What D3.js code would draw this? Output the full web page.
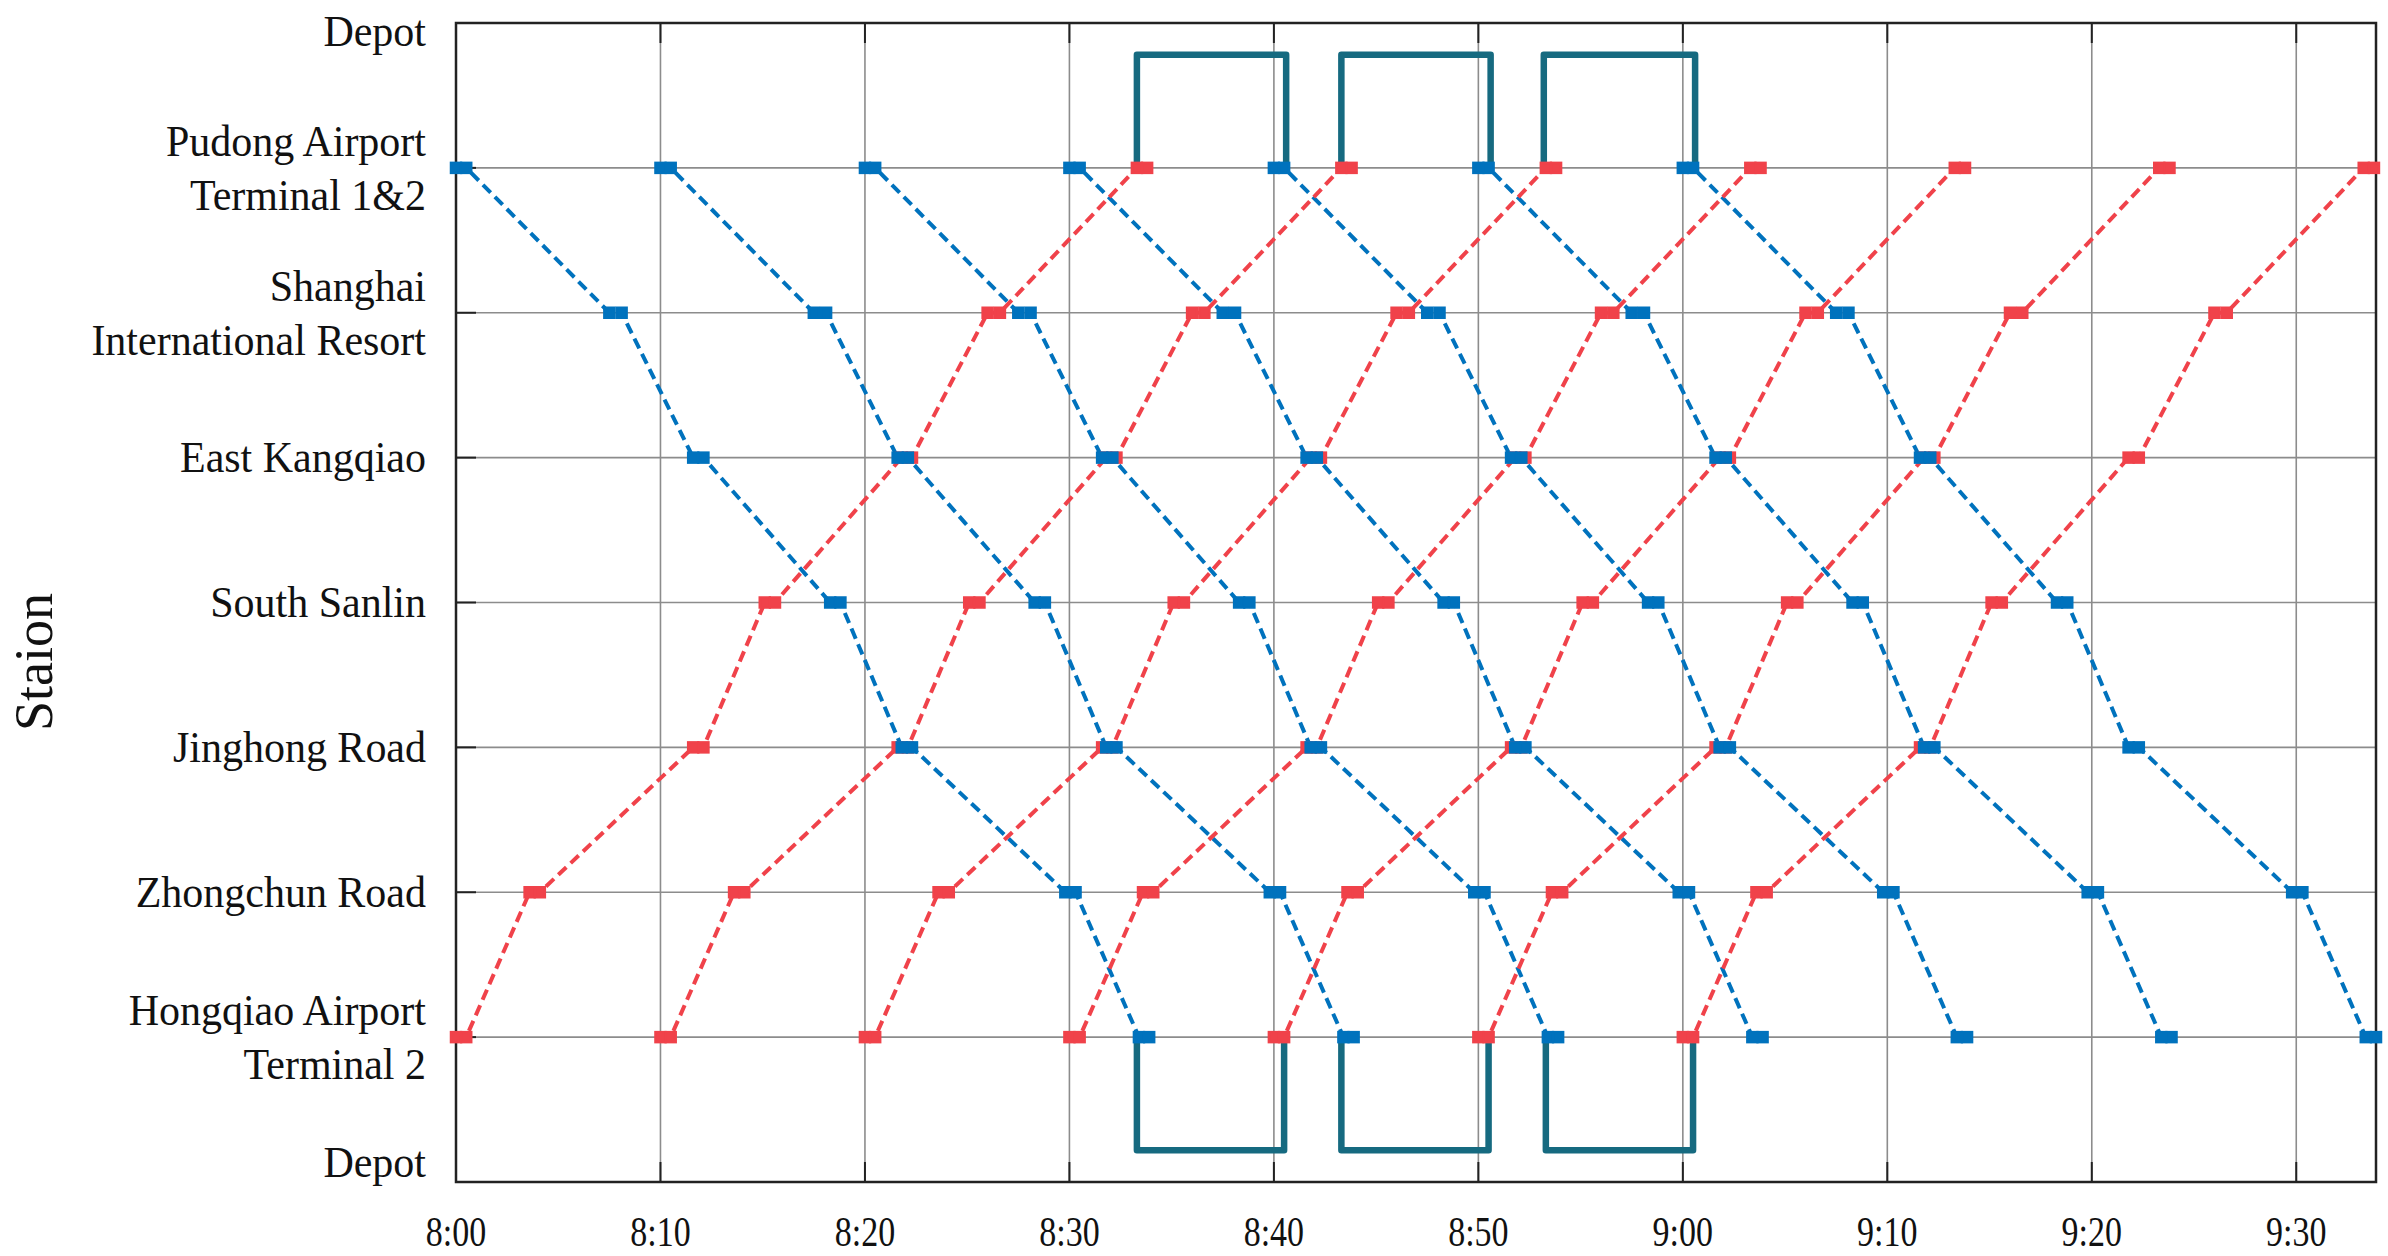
<!DOCTYPE html>
<html><head><meta charset="utf-8">
<script src="https://cdn.jsdelivr.net/npm/d3@7"></script>
<style>body{margin:0;background:#fff}</style></head>
<body><svg id="c" width="2388" height="1256"></svg>
<script>
// station levels: 0 Depot (bottom), 1 Hongqiao ... 7 Pudong, 8 Depot (top)
const stationLabels = [["Depot"],["Hongqiao Airport","Terminal 2"],["Zhongchun Road"],["Jinghong Road"],["South Sanlin"],["East Kangqiao"],["Shanghai","International Resort"],["Pudong Airport","Terminal 1&2"],["Depot"]];
const timeTicks = [0,10,20,30,40,50,60,70,80,90];
const timeTickLabels = ["8:00","8:10","8:20","8:30","8:40","8:50","9:00","9:10","9:20","9:30"];
// Blue trains (Pudong -> Hongqiao), stop levels and arr/dep minutes after 8:00
const blueLevels = [7,6,5,4,3,2,1];
const blueTrains = [
 [0,0.5, 7.5,8.1, 11.6,12.1, 18.3,18.8, 21.8,22.3, 29.8,30.3, 33.4,33.9],
 [10,10.5,17.5,18.1,21.6,22.1,28.3,28.8,31.8,32.3,39.8,40.3,43.4,43.9],
 [20,20.5,27.5,28.1,31.6,32.1,38.3,38.8,41.8,42.3,49.8,50.3,53.4,53.9],
 [30,30.5,37.5,38.1,41.6,42.1,48.3,48.8,51.8,52.3,59.8,60.3,63.4,63.9],
 [40,40.5,47.5,48.1,51.6,52.1,58.3,58.8,61.8,62.3,69.8,70.3,73.4,73.9],
 [50,50.5,57.5,58.1,61.6,62.1,68.3,68.8,71.8,72.3,79.8,80.3,83.4,83.9],
 [60,60.5,67.5,68.1,71.6,72.1,78.3,78.8,81.8,82.3,89.8,90.3,93.4,93.9]
];
// Red trains (Hongqiao -> Pudong)
const redLevels = [1,2,3,4,5,6,7];
const redTrains = [
 [0,0.5, 3.6,4.1, 11.6,12.1, 15.1,15.6, 21.8,22.3, 26.0,26.6, 33.3,33.8],
 [10,10.5,13.6,14.1,21.6,22.1,25.1,25.6,31.8,32.3,36.0,36.6,43.3,43.8],
 [20,20.5,23.6,24.1,31.6,32.1,35.1,35.6,41.8,42.3,46.0,46.6,53.3,53.8],
 [30,30.5,33.6,34.1,41.6,42.1,45.1,45.6,51.8,52.3,56.0,56.6,63.3,63.8],
 [40,40.5,43.6,44.1,51.6,52.1,55.1,55.6,61.8,62.3,66.0,66.6,73.3,73.8],
 [50,50.5,53.6,54.1,61.6,62.1,65.1,65.6,71.8,72.3,76.0,76.6,83.3,83.8],
 [60,60.5,63.6,64.1,71.6,72.1,75.1,75.6,81.8,82.3,86.0,86.6,93.3,93.8]
];
const depotTop = [[33.3,40.6],[43.3,50.6],[53.2,60.6]];
const depotBottom = [[33.3,40.5],[43.3,50.5],[53.3,60.5]];

const svg = d3.select("#c");
const L=456,R=2376,T=23,B=1182;
const x = d3.scaleLinear().domain([0,93.9]).range([L,R]);
const y = d3.scaleLinear().domain([0,8]).range([B,T]);
const g = svg.append("g");
g.selectAll(".vg").data(timeTicks).join("line").attr("x1",d=>x(d)).attr("x2",d=>x(d)).attr("y1",T).attr("y2",B).attr("stroke","#8c8c8c").attr("stroke-width",1.6);
g.selectAll(".hg").data(d3.range(1,8)).join("line").attr("x1",L).attr("x2",R).attr("y1",d=>y(d)).attr("y2",d=>y(d)).attr("stroke","#8c8c8c").attr("stroke-width",1.6);
g.selectAll(".bt").data(timeTicks).join("line").attr("x1",d=>x(d)).attr("x2",d=>x(d)).attr("y1",B).attr("y2",B-20).attr("stroke","#222").attr("stroke-width",2);
g.selectAll(".tt").data(timeTicks).join("line").attr("x1",d=>x(d)).attr("x2",d=>x(d)).attr("y1",T).attr("y2",T+20).attr("stroke","#222").attr("stroke-width",2);
g.selectAll(".lt").data(d3.range(0,9)).join("line").attr("x1",L).attr("x2",L+20).attr("y1",d=>y(d)).attr("y2",d=>y(d)).attr("stroke","#222").attr("stroke-width",2);
g.append("rect").attr("x",L).attr("y",T).attr("width",R-L).attr("height",B-T).attr("fill","none").attr("stroke","#222").attr("stroke-width",2.5);

const line = d3.line().x(d=>x(d[0])).y(d=>y(d[1]));
function pts(tr,lv){const p=[];lv.forEach((l,i)=>{p.push([tr[2*i],l]);p.push([tr[2*i+1],l]);});return p;}
function drawTrains(trains,lv,col){
  trains.forEach(tr=>{
    g.append("path").attr("d",line(pts(tr,lv))).attr("fill","none").attr("stroke",col).attr("stroke-width",4).attr("stroke-dasharray","11,6");
  });
}
function drawMarkers(trains,lv,col){
  trains.forEach(tr=>{
    pts(tr,lv).forEach(d=>{
      g.append("rect").attr("x",x(d[0])-5).attr("y",y(d[1])-5).attr("width",10).attr("height",10).attr("fill",col).attr("stroke",col).attr("stroke-width",2.5);
    });
  });
}
const blue="#0072BD", red="#F0424A", teal="#166A80";
const depotLine=d3.line().x(d=>x(d[0])).y(d=>y(d[1]));
depotTop.forEach(([a,b])=>g.append("path").attr("d",depotLine([[a,7],[a,7.78],[b,7.78],[b,7]])).attr("fill","none").attr("stroke",teal).attr("stroke-width",6.5).attr("stroke-linejoin","round"));
depotBottom.forEach(([a,b])=>g.append("path").attr("d",depotLine([[a,1],[a,0.22],[b,0.22],[b,1]])).attr("fill","none").attr("stroke",teal).attr("stroke-width",6.5).attr("stroke-linejoin","round"));
drawTrains(blueTrains,blueLevels,blue);
drawTrains(redTrains,redLevels,red);
drawMarkers(redTrains,redLevels,red);
drawMarkers(blueTrains,blueLevels,blue);

const font='"Liberation Serif","Times New Roman",serif';
function txt(s,tx,ty,anchor,size,sx){
  svg.append("text").attr("transform",`translate(${tx},${ty}) scale(${sx},1.05)`).attr("text-anchor",anchor).attr("dominant-baseline","central").attr("font-family",font).attr("font-size",size).attr("fill","#111").text(s);
}
stationLabels.forEach((lines,i)=>{
  let cy=y(i);
  if(i===8) cy=31; if(i===0) cy=1162;
  if(lines.length===1) txt(lines[0],426,cy,"end",42,1);
  else {txt(lines[0],426,cy-27,"end",42,1); txt(lines[1],426,cy+27,"end",42,1);}
});
timeTicks.forEach((t,i)=>txt(timeTickLabels[i],x(t),1232,"middle",40,0.85));
svg.append("text").attr("transform","translate(34,662) rotate(-90)").attr("text-anchor","middle").attr("dominant-baseline","central").attr("font-family",font).attr("font-size",54).attr("fill","#111").text("Staion");
</script></body></html>
